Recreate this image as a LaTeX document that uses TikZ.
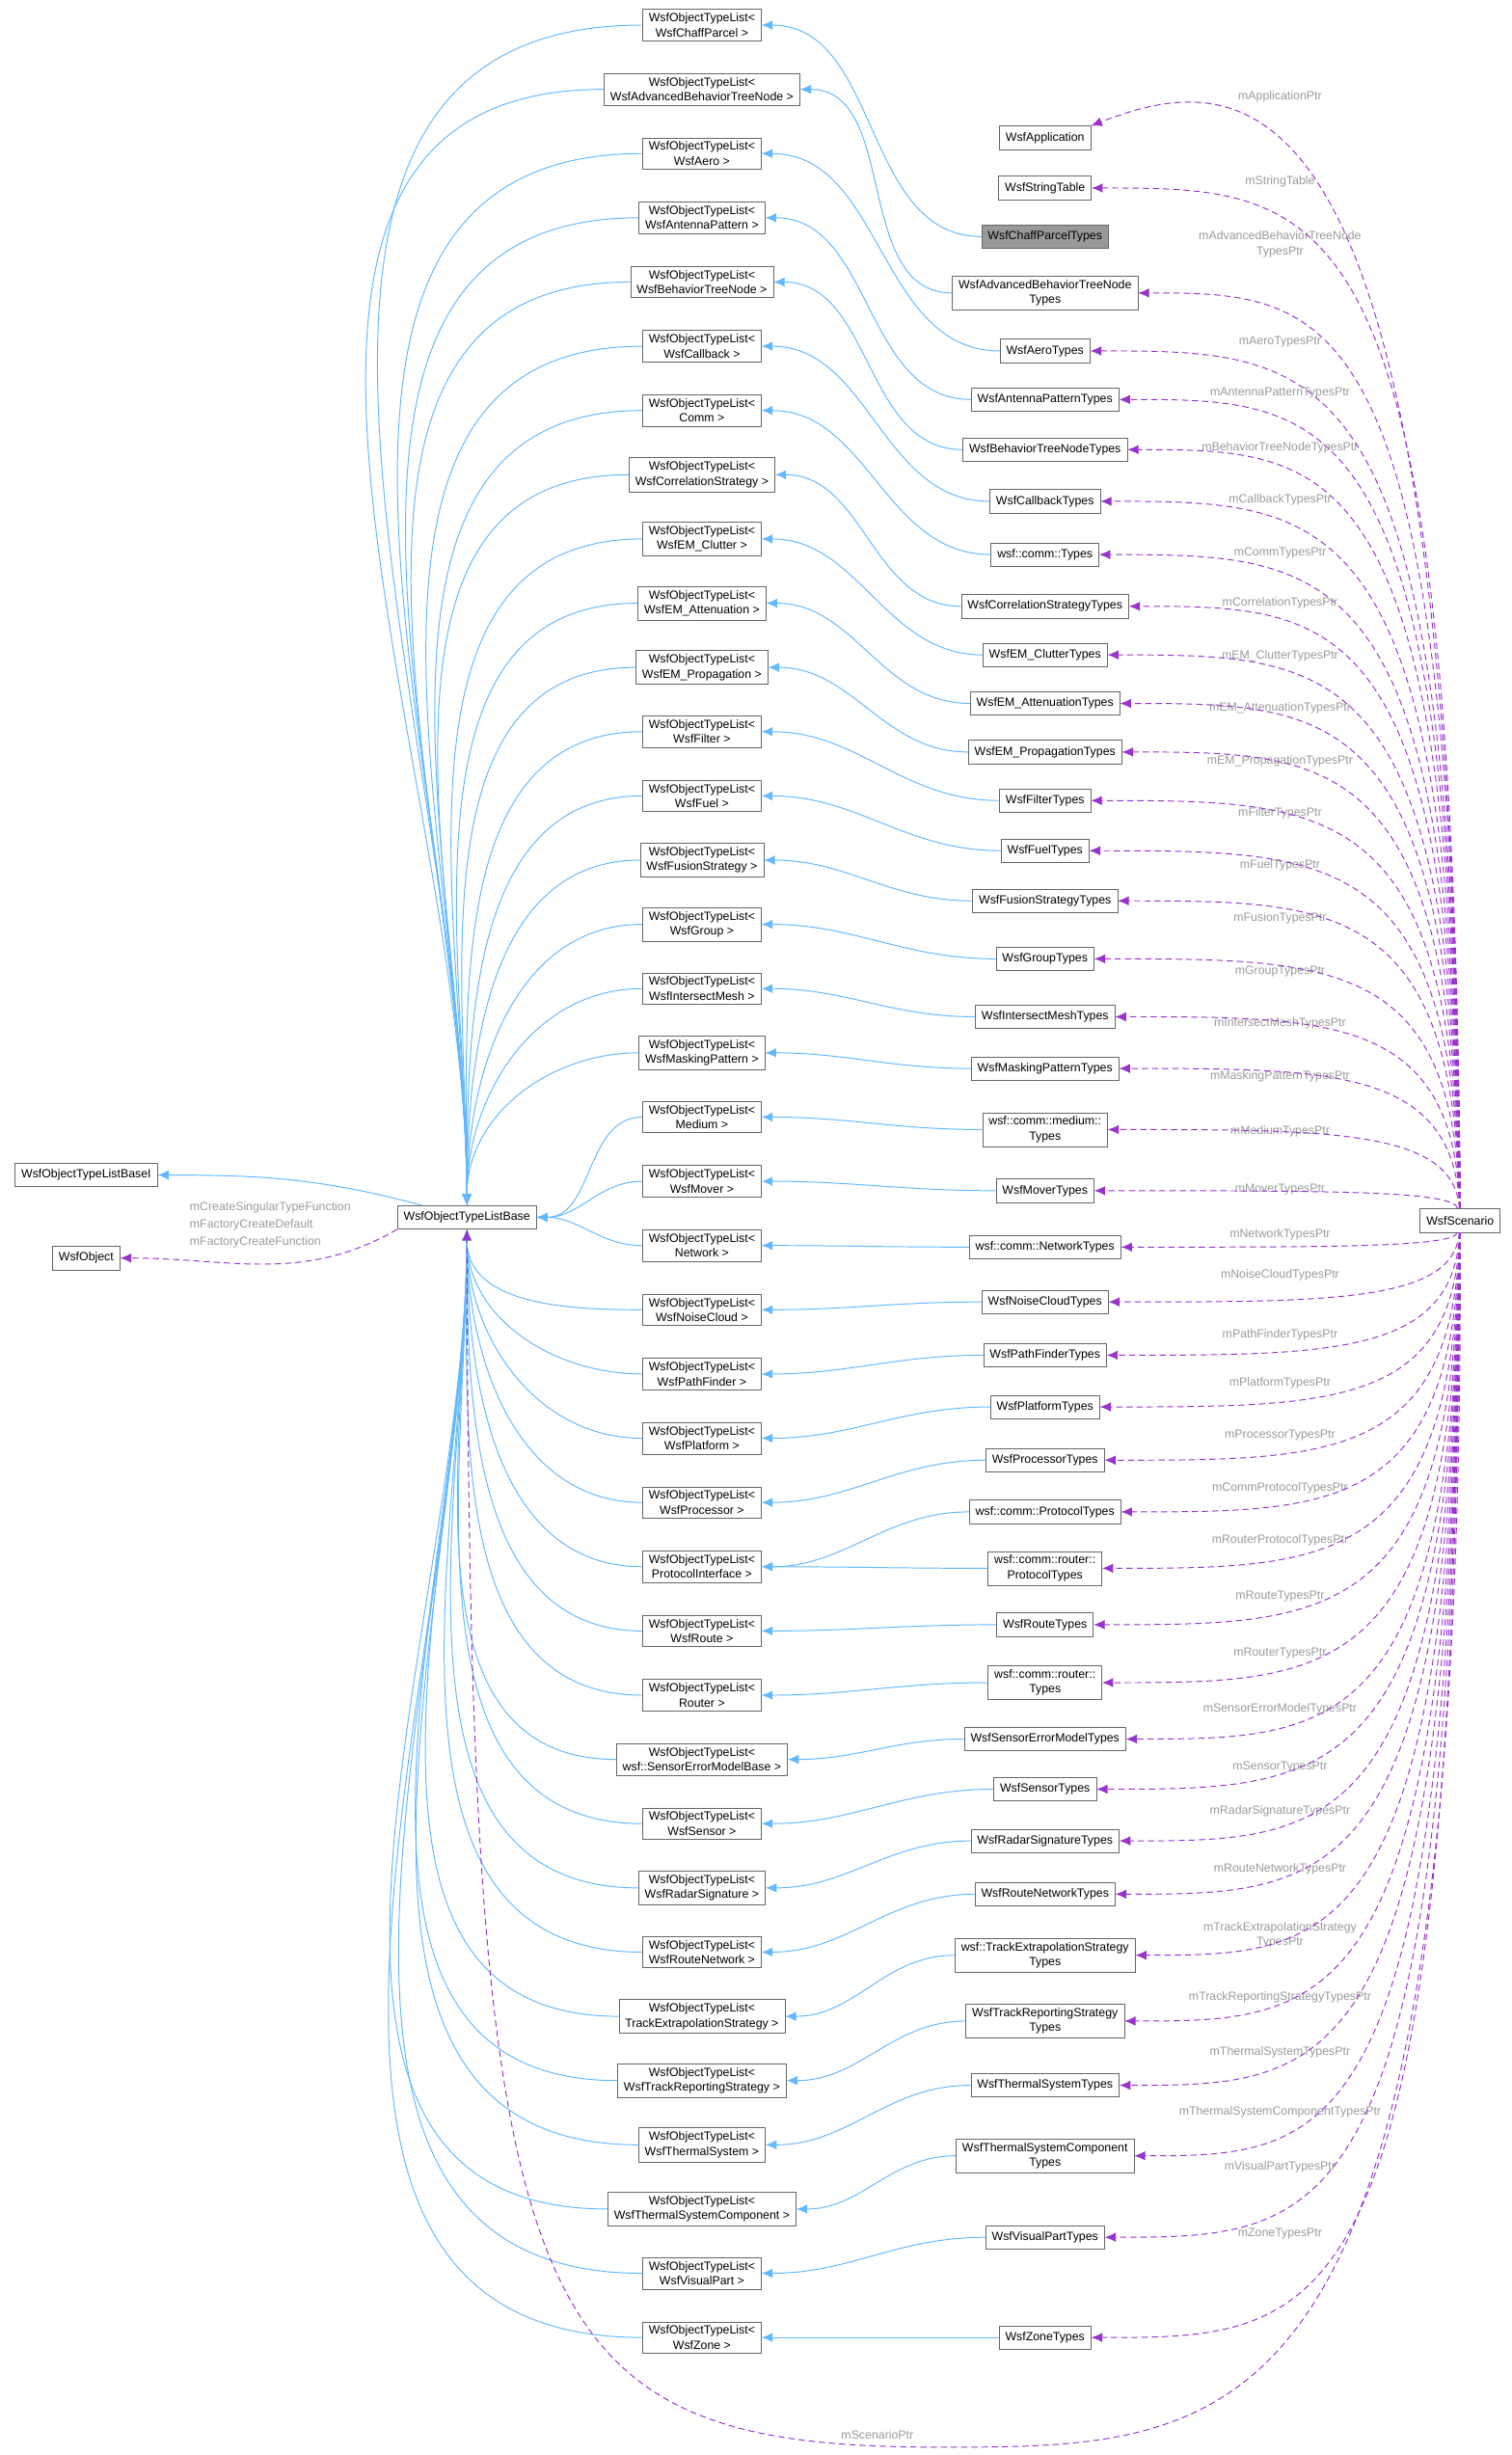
\documentclass[tikz,border=0pt]{standalone}
\usepackage{fontspec}
\setmainfont{Liberation Sans}
\usepackage{tikz}
\usetikzlibrary{shapes,arrows,arrows.meta,positioning}
\definecolor{edgeblue}{HTML}{63B8FF}
\definecolor{edgepurple}{HTML}{9A32CD}
\definecolor{labelgray}{HTML}{9A9A9A}
\definecolor{boxline}{HTML}{666666}
\tikzstyle{cls}=[rectangle, draw=boxline, fill=white, align=center, inner xsep=4pt, inner ysep=2.5pt, minimum height=15pt]
\tikzstyle{focus}=[cls, fill=black!40]
\tikzstyle{inherit}=[-{Latex[length=7pt,width=6pt]}, edgeblue, line width=0.6pt]
\tikzstyle{member}=[-{Latex[length=7pt,width=6pt]}, edgepurple, line width=0.6pt, dash pattern=on 4pt off 2.5pt]
\tikzstyle{memlabel}=[text=labelgray, align=center, inner sep=1pt]

\begin{document}
\begin{tikzpicture}[x=1pt,y=-1pt,every node/.style={font=\fontsize{7.6}{9.5}\selectfont}]
\useasboundingbox (0,0) rectangle (965,1567);

\node[cls](bi) at (55,750) {WsfObjectTypeListBaseI};
\node[cls](obj) at (55,803) {WsfObject};
\node[cls](base) at (298,777) {WsfObjectTypeListBase};
\node[cls](sc) at (932,779) {WsfScenario};
\node[cls](app) at (667,88) {WsfApplication};
\node[cls](str) at (667,120) {WsfStringTable};

% templates
\foreach \a [count=\i] in {WsfChaffParcel,WsfAdvancedBehaviorTreeNode,WsfAero,WsfAntennaPattern,
  WsfBehaviorTreeNode,WsfCallback,Comm,WsfCorrelationStrategy,WsfEM\_Clutter,WsfEM\_Attenuation,
  WsfEM\_Propagation,WsfFilter,WsfFuel,WsfFusionStrategy,WsfGroup,WsfIntersectMesh,WsfMaskingPattern,
  Medium,WsfMover,Network,WsfNoiseCloud,WsfPathFinder,WsfPlatform,WsfProcessor,ProtocolInterface,
  WsfRoute,Router,wsf::SensorErrorModelBase,WsfSensor,WsfRadarSignature,WsfRouteNetwork,
  TrackExtrapolationStrategy,WsfTrackReportingStrategy,WsfThermalSystem,WsfThermalSystemComponent,
  WsfVisualPart,WsfZone}{
  \pgfmathsetmacro\ty{16+41*(\i-1)}
  \node[cls](t\i) at (448,\ty) {WsfObjectTypeList<\\\a~>};
  \ifdim\ty pt<700pt
    \draw[inherit](t\i.west) to[out=180,in=90] (base.north);
  \else\ifdim\ty pt<800pt
    \draw[inherit](t\i.west) to[out=180,in=0] (base.east);
  \else
    \draw[inherit](t\i.west) to[out=180,in=-90] (base.south);
  \fi\fi
}

% types and the scenario members
\foreach \i/\y/\k/\txt/\ly/\lab in {
  1/151/1/WsfChaffParcelTypes/0/{},
  2/187/2/{WsfAdvancedBehaviorTreeNode\\Types}/156/{mAdvancedBehaviorTreeNode\\TypesPtr},
  3/224/3/WsfAeroTypes/218/mAeroTypesPtr,
  4/255/4/WsfAntennaPatternTypes/251/mAntennaPatternTypesPtr,
  5/287/5/WsfBehaviorTreeNodeTypes/286/mBehaviorTreeNodeTypesPtr,
  6/320/6/WsfCallbackTypes/319/mCallbackTypesPtr,
  7/354/7/wsf::comm::Types/353/mCommTypesPtr,
  8/387/8/WsfCorrelationStrategyTypes/385/mCorrelationTypesPtr,
  9/418/9/WsfEM\_ClutterTypes/419/mEM\_ClutterTypesPtr,
  10/449/10/WsfEM\_AttenuationTypes/452/mEM\_AttenuationTypesPtr,
  11/480/11/WsfEM\_PropagationTypes/486/mEM\_PropagationTypesPtr,
  12/511/12/WsfFilterTypes/519/mFilterTypesPtr,
  13/543/13/WsfFuelTypes/552/mFuelTypesPtr,
  14/575/14/WsfFusionStrategyTypes/586/mFusionTypesPtr,
  15/612/15/WsfGroupTypes/620/mGroupTypesPtr,
  16/649/16/WsfIntersectMeshTypes/653/mIntersectMeshTypesPtr,
  17/682/17/WsfMaskingPatternTypes/687/mMaskingPatternTypesPtr,
  18/721/18/{wsf::comm::medium::\\Types}/722/mMediumTypesPtr,
  19/760/19/WsfMoverTypes/759/mMoverTypesPtr,
  20/796/20/wsf::comm::NetworkTypes/788/mNetworkTypesPtr,
  21/831/21/WsfNoiseCloudTypes/814/mNoiseCloudTypesPtr,
  22/865/22/WsfPathFinderTypes/852/mPathFinderTypesPtr,
  23/898/23/WsfPlatformTypes/883/mPlatformTypesPtr,
  24/932/24/WsfProcessorTypes/916/mProcessorTypesPtr,
  25/965/25/wsf::comm::ProtocolTypes/950/mCommProtocolTypesPtr,
  26/1001/25/{wsf::comm::router::\\ProtocolTypes}/983/mRouterProtocolTypesPtr,
  27/1037/26/WsfRouteTypes/1019/mRouteTypesPtr,
  28/1074/27/{wsf::comm::router::\\Types}/1055/mRouterTypesPtr,
  29/1110/28/WsfSensorErrorModelTypes/1091/mSensorErrorModelTypesPtr,
  30/1142/29/WsfSensorTypes/1128/mSensorTypesPtr,
  31/1175/30/WsfRadarSignatureTypes/1156/mRadarSignatureTypesPtr,
  32/1209/31/WsfRouteNetworkTypes/1193/mRouteNetworkTypesPtr,
  33/1248/32/{wsf::TrackExtrapolationStrategy\\Types}/1235/{mTrackExtrapolationStrategy\\TypesPtr},
  34/1290/33/{WsfTrackReportingStrategy\\Types}/1275/mTrackReportingStrategyTypesPtr,
  35/1331/34/WsfThermalSystemTypes/1310/mThermalSystemTypesPtr,
  36/1376/35/{WsfThermalSystemComponent\\Types}/1348/mThermalSystemComponentTypesPtr,
  37/1428/36/WsfVisualPartTypes/1383/mVisualPartTypesPtr,
  38/1492/37/WsfZoneTypes/1426/mZoneTypesPtr}{
  \ifnum\i=1
    \node[focus](p\i) at (667,\y) {\txt};
  \else
    \node[cls](p\i) at (667,\y) {\txt};
    \node[memlabel] at (817,\ly) {\lab};
    \draw[member](sc) .. controls (928,\y) and (850,\y) .. (p\i.east);
  \fi
  \draw[inherit](p\i.west) to[out=180,in=0] (t\k.east);
}

\draw[member](sc) .. controls (928,40) and (800,40) .. (app.north east);
\node[memlabel] at (817,62) {mApplicationPtr};
\draw[member](sc) .. controls (928,120) and (850,120) .. (str.east);
\node[memlabel] at (817,116) {mStringTable};
\draw[inherit](base) to[out=165,in=0] (bi.east);
\draw[member](base.south west) to[out=210,in=0] (obj.east);
\node[memlabel,anchor=west,align=left] at (120,782) {mCreateSingularTypeFunction\\[1.5pt]mFactoryCreateDefault\\[1.5pt]mFactoryCreateFunction};
\coordinate (sbot) at (600,1562);
\draw[member](sc.south) .. controls (935,1560) and (800,1562) .. (sbot)
  .. controls (330,1562) and (300,1480) .. (base.south);
\node[memlabel] at (560,1554) {mScenarioPtr};

\end{tikzpicture}
\end{document}
